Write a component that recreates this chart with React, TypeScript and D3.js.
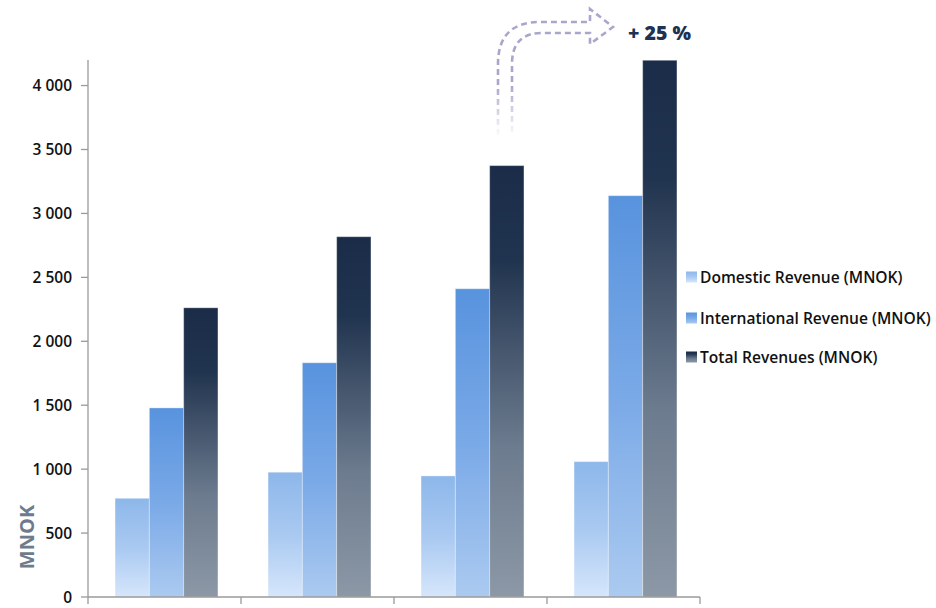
import React from "react";
import * as d3 from "d3";

const categories = ["Y1", "Y2", "Y3", "Y4"];
const seriesNames = ["Domestic Revenue (MNOK)", "International Revenue (MNOK)", "Total Revenues (MNOK)"];
const domestic = [772, 976, 947, 1059];
const international = [1479, 1832, 2411, 3139];
const total = [2262, 2818, 3374, 4198];
const yTicks = [0, 500, 1000, 1500, 2000, 2500, 3000, 3500, 4000];
const growthLabel = "+ 25 %";
const yTitle = "MNOK";

const W = 936;
const H = 608;
const left = 88;
const right = 700;
const top = 60;
const bottom = 597;

const gradients = [
  { id: "gDom", stops: [["0", "#8db7ea"], ["0.5", "#a9c9f1"], ["1", "#d6e6fb"]] },
  { id: "gInt", stops: [["0", "#5893de"], ["0.5", "#7aa9e7"], ["1", "#abcaf0"]] },
  { id: "gTot", stops: [["0", "#1a2c48"], ["0.22", "#21344f"], ["0.65", "#6c7b8e"], ["1", "#8c98a6"]] },
];

export default function App() {
  const series = [domestic, international, total];
  const y = d3.scaleLinear().domain([0, 4200]).range([bottom, top]);
  const x = d3.scaleBand<string>().domain(categories).range([left, right]).paddingInner(0).paddingOuter(0);
  const xs = d3
    .scaleBand<number>()
    .domain([0, 1, 2])
    .range([0, x.bandwidth()])
    .paddingInner(0)
    .paddingOuter(0.73)
    .align(0.54);
  const fmt = (v: number) => d3.format(",")(v).replace(/,/g, " ");
  const boundaries = [...categories.map((c) => x(c) as number), right];

  const arrowPath =
    "M 498 135 L 498 64 Q 498 22 540 22 L 590 22 L 590 9 L 613 27 L 590 44 L 590 33 L 542 33 Q 512 33 512 64 L 512 135";

  return (
    <svg
      width={W}
      height={H}
      style={{ position: "absolute", left: 0, top: 0, background: "#fff" }}
      fontFamily="'Open Sans', sans-serif"
    >
      <defs>
        {gradients.map((g) => (
          <linearGradient key={g.id} id={g.id} x1="0" y1="0" x2="0" y2="1">
            {g.stops.map(([o, c]) => (
              <stop key={o} offset={o} stopColor={c} />
            ))}
          </linearGradient>
        ))}
        <linearGradient id="arrowFade" gradientUnits="userSpaceOnUse" x1="0" y1="135" x2="0" y2="85">
          <stop offset="0" stopColor="#a9a6cc" stopOpacity="0.05" />
          <stop offset="1" stopColor="#a9a6cc" stopOpacity="1" />
        </linearGradient>
      </defs>

      {/* bars */}
      {categories.map((c, i) => (
        <g key={c}>
          {series.map((s, k) => (
            <rect
              key={k}
              x={(x(c) as number) + (xs(k) as number)}
              y={y(s[i])}
              width={xs.bandwidth()}
              height={y(0) - y(s[i])}
              fill={`url(#${gradients[k].id})`}
              stroke="#ffffff"
              strokeOpacity={0.35}
              strokeWidth={1}
            />
          ))}
        </g>
      ))}

      {/* y axis */}
      <line x1={left} x2={left} y1={top} y2={bottom} stroke="#9a9a9a" strokeWidth={1.3} />
      {yTicks.map((t) => (
        <g key={t}>
          <line x1={left - 7} x2={left} y1={y(t)} y2={y(t)} stroke="#9a9a9a" strokeWidth={1.3} />
          <text x={72} y={y(t)} dy="0.36em" textAnchor="end" fontSize={15.5} fontWeight={600} fill="#111">
            {fmt(t)}
          </text>
        </g>
      ))}
      {/* x axis */}
      <line x1={left} x2={right} y1={bottom} y2={bottom} stroke="#9a9a9a" strokeWidth={1.3} />
      {boundaries.map((b, i) => (
        <line key={i} x1={b} x2={b} y1={bottom} y2={bottom + 7} stroke="#9a9a9a" strokeWidth={1.3} />
      ))}

      {/* y title */}
      <text
        transform={`translate(34, ${537}) rotate(-90)`}
        textAnchor="middle"
        fontSize={20}
        fontWeight={700}
        fill="#6d7b8d"
      >
        {yTitle}
      </text>

      {/* legend */}
      {seriesNames.map((n, k) => {
        const cy = [277, 318, 357][k];
        return (
          <g key={n}>
            <rect x={686} y={cy - 5.5} width={11} height={11} fill={`url(#${gradients[k].id})`} />
            <text x={700} y={cy} dy="0.36em" fontSize={15.6} fontWeight={600} fill="#111">
              {n}
            </text>
          </g>
        );
      })}

      {/* growth arrow */}
      <path
        d={arrowPath}
        fill="none"
        stroke="url(#arrowFade)"
        strokeWidth={2.6}
        strokeDasharray="6 4"
      />
      <text x={628} y={33} dy="0.36em" fontSize={19.5} fontWeight={800} fill="#1e3252">
        {growthLabel}
      </text>
    </svg>
  );
}
